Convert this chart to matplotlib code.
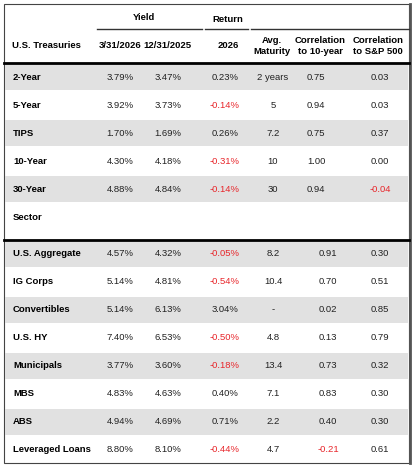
import matplotlib.pyplot as plt
from matplotlib.patches import Rectangle

plt.rcParams['font.family'] = ['Liberation Sans', 'DejaVu Sans']

W, H = 413, 467

treas_names = ["2-Year", "5-Year", "TIPS", "10-Year", "30-Year"]
treas_y1 = ["3.79%", "3.92%", "1.70%", "4.30%", "4.88%"]
treas_y2 = ["3.47%", "3.73%", "1.69%", "4.18%", "4.84%"]
treas_ret = ["0.23%", "-0.14%", "0.26%", "-0.31%", "-0.14%"]
treas_mat = ["2 years", "5", "7.2", "10", "30"]
treas_c10 = ["0.75", "0.94", "0.75", "1.00", "0.94"]
treas_csp = ["0.03", "0.03", "0.37", "0.00", "-0.04"]

sect_names = ["U.S. Aggregate", "IG Corps", "Convertibles", "U.S. HY", "Municipals",
              "MBS", "ABS", "Leveraged Loans"]
sect_y1 = ["4.57%", "5.14%", "5.14%", "7.40%", "3.77%", "4.83%", "4.94%", "8.80%"]
sect_y2 = ["4.32%", "4.81%", "6.13%", "6.53%", "3.60%", "4.63%", "4.69%", "8.10%"]
sect_ret = ["-0.05%", "-0.54%", "3.04%", "-0.50%", "-0.18%", "0.40%", "0.71%", "-0.44%"]
sect_mat = ["8.2", "10.4", "-", "4.8", "13.4", "7.1", "2.2", "4.7"]
sect_c10 = ["0.91", "0.70", "0.02", "0.13", "0.73", "0.83", "0.40", "-0.21"]
sect_csp = ["0.30", "0.51", "0.85", "0.79", "0.32", "0.30", "0.30", "0.61"]

fig = plt.figure(figsize=(W / 100, H / 100), dpi=100)
ax = fig.add_axes([0, 0, 1, 1])
ax.set_xlim(0, W)
ax.set_ylim(H, 0)
ax.axis('off')

FS = 6.8
GRAY = '#e1e1e1'
RED = '#e8262b'

# outer frame
ax.add_patch(Rectangle((4, 4), 405, 459, fill=False, lw=0.8, ec='#444444'))
ax.plot([409.5, 409.5], [4, 463], color='#555555', lw=2)

# header
ax.text(144, 17, "Yield", ha='center', va='center', fontsize=FS, weight='bold')
ax.text(228, 19, "Return", ha='center', va='center', fontsize=FS, weight='bold')
for x0, x1 in [(97, 202), (205, 248), (251, 409)]:
    ax.plot([x0, x1], [28.5, 28.5], color='#333333', lw=1)
ax.text(12, 46, "U.S. Treasuries", ha='left', va='center', fontsize=FS, weight='bold')
for x, t in [(120, "3/31/2026"), (167, "12/31/2025"), (228, "2026"),
             (272, "Avg.\nMaturity"), (320, "Correlation\nto 10-year"),
             (378, "Correlation\nto S&P 500")]:
    ax.text(x, 46, t, ha='center', va='center', fontsize=FS, weight='bold', linespacing=1.3)
ax.plot([4, 409], [63, 63], color='black', lw=2)


def draw_rows(names, cols, xs, top, cx10):
    for i, name in enumerate(names):
        yc = top + 14 + 28 * i
        if i % 2 == 0:
            ax.add_patch(Rectangle((5, top + 28 * i + 1), 403, 26, color=GRAY, lw=0))
        ax.text(13, yc, name, ha='left', va='center', fontsize=FS, weight='bold')
        for col, x in zip(cols, xs[:4] + [cx10, xs[5]]):
            v = col[i]
            ax.text(x, yc, v, ha='center', va='center', fontsize=FS,
                    color=RED if v.startswith('-') and v != '-' else '#222222')


xs = [120, 168, 225, 273, 316, 380]
draw_rows(treas_names, [treas_y1, treas_y2, treas_ret, treas_mat, treas_c10, treas_csp],
          xs, 63, 316)
ax.text(13, 217, "Sector", ha='left', va='center', fontsize=FS, weight='bold')
ax.plot([4, 409], [240, 240], color='black', lw=2)
draw_rows(sect_names, [sect_y1, sect_y2, sect_ret, sect_mat, sect_c10, sect_csp],
          xs, 240, 328)

fig.savefig("out.png", dpi=100)
